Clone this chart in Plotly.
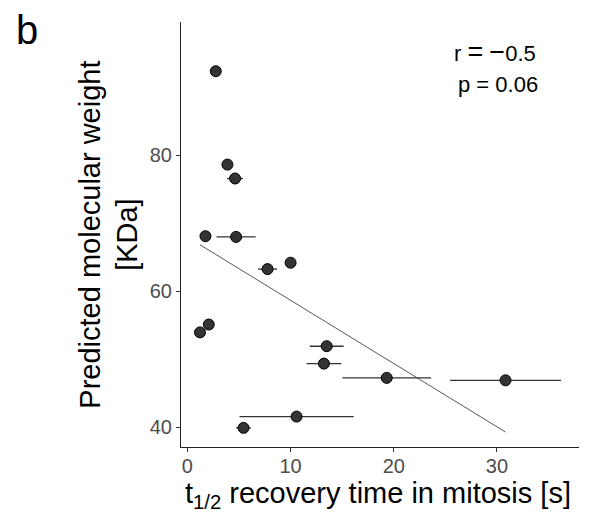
import numpy as np
import plotly.graph_objects as go

# FRAP half-life in mitosis (mean, sd) versus predicted molecular weight
half_life = [2.75, 3.88, 4.62, 1.75, 4.72, 7.77, 10.0, 1.22, 2.07, 13.5, 13.23, 19.32, 30.83, 10.58, 5.44]
half_life_sd = [0.2, 0.2, 0.77, 0.2, 1.9, 0.92, 0.3, 0.2, 0.2, 1.64, 1.69, 4.3, 5.37, 5.53, 0.72]
mol_weight = [92.4, 78.65, 76.6, 68.1, 68.0, 63.26, 64.2, 53.94, 55.1, 51.9, 49.34, 47.24, 46.88, 41.54, 39.88]

x_ticks = [0, 10, 20, 30]
y_ticks = [40, 60, 80]

FONT = "Liberation Sans, Arial, Helvetica, sans-serif"
SYM = "<span style='font-size:27px'>{}</span>"

r_label = "r " + SYM.format("=") + " " + SYM.format("\u2212") + "0.5"
p_label = "p = 0.06"

# least-squares fit over the observed range
slope, intercept = np.polyfit(half_life, mol_weight, 1)
fit_x = np.array([min(half_life), max(half_life)])
fit_y = slope * fit_x + intercept

fig = go.Figure()

fig.add_trace(go.Scatter(
    x=fit_x, y=fit_y, mode="lines",
    line=dict(color="#595959", width=1),
    hoverinfo="skip", showlegend=False,
))

fig.add_trace(go.Scatter(
    x=half_life, y=mol_weight, mode="markers",
    error_x=dict(type="data", array=half_life_sd, visible=True,
                 color="#333333", thickness=1.3, width=0),
    marker=dict(size=11, color="#333333", line=dict(color="#000000", width=1)),
    showlegend=False,
))

axis_common = dict(
    showgrid=False, zeroline=False, showline=True,
    linecolor="#222222", linewidth=1,
    ticks="outside", ticklen=4, tickwidth=1, tickcolor="#333333",
    tickfont=dict(family=FONT, size=20, color="#4d4d4d"),
)

fig.update_xaxes(range=[-0.62, 37.95], tickvals=x_ticks, ticklabelstandoff=-3, **axis_common)
fig.update_yaxes(range=[37.06, 99.65], tickvals=y_ticks, **axis_common)

annotations = [
    dict(text="t<sub>1/2</sub> recovery time in mitosis [s]",
         xref="paper", yref="paper", x=0.495, y=-0.066,
         xanchor="center", yanchor="top", showarrow=False,
         font=dict(family=FONT, size=29, color="#000000")),
    dict(text="Predicted molecular weight<br>[KDa]",
         xref="paper", yref="paper", x=-0.183, y=0.5,
         xanchor="center", yanchor="middle", textangle=-90, showarrow=False,
         font=dict(family=FONT, size=29, color="#000000")),
    dict(text="b", xref="paper", yref="paper", x=-0.42, y=1.037,
         xanchor="left", yanchor="top", showarrow=False,
         font=dict(family=FONT, size=40, color="#000000")),
    dict(text=r_label, xref="x", yref="y", x=29.8, y=95.3,
         xanchor="center", yanchor="middle", showarrow=False,
         font=dict(family=FONT, size=22, color="#000000")),
    dict(text=p_label, xref="x", yref="y", x=30.1, y=90.4,
         xanchor="center", yanchor="middle", showarrow=False,
         font=dict(family=FONT, size=22, color="#000000")),
]

fig.update_layout(
    width=594, height=520,
    margin=dict(l=181, r=15, t=22, b=73, pad=0),
    paper_bgcolor="white", plot_bgcolor="white",
    annotations=annotations,
    font=dict(family=FONT),
)

fig.write_html("out.html")
